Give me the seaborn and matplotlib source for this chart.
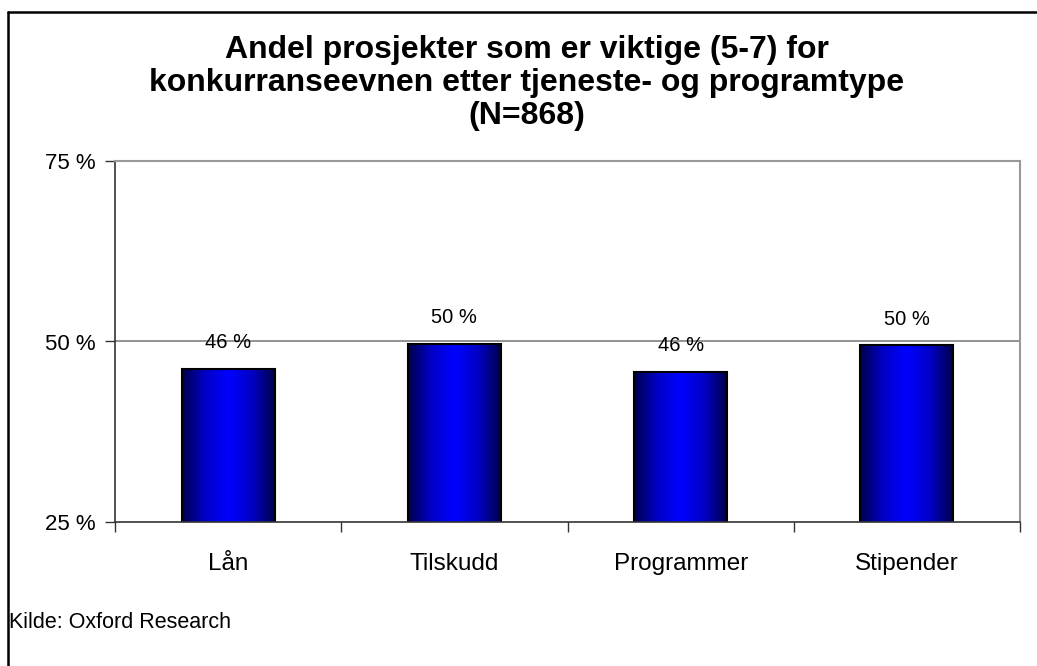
import numpy as np
import pandas as pd
import matplotlib
matplotlib.use("Agg")
import matplotlib.pyplot as plt
from matplotlib.colors import LinearSegmentedColormap
from matplotlib.lines import Line2D
from matplotlib.ticker import FixedLocator
import seaborn as sns

categories = ["Lån", "Tilskudd", "Programmer", "Stipender"]
shares = [46.2, 49.7, 45.8, 49.5]
y_ticks = [25, 50, 75]
title_lines = ["Andel prosjekter som er viktige (5-7) for",
               "konkurranseevnen etter tjeneste- og programtype",
               "(N=868)"]
source_note = "Kilde: Oxford Research"

sns.set_theme(style="white")
plt.rcParams["font.family"] = ["Liberation Sans", "DejaVu Sans"]
plt.rcParams["text.color"] = "black"
plt.rcParams["xtick.color"] = "black"
plt.rcParams["ytick.color"] = "black"

df = pd.DataFrame({"kategori": categories, "andel": shares})

fig = plt.figure(figsize=(10.37, 6.66), dpi=100)
ax = fig.add_axes([115 / 1037, 1 - 522 / 666, 905 / 1037, 361 / 666])

sns.barplot(data=df, x="kategori", y="andel", ax=ax, width=0.41,
            color="#0000FF", edgecolor="black", linewidth=1.5, saturation=1)

ax.set_ylim(25, 75)
ax.set_xlim(-0.5, len(categories) - 0.5)
ax.set_xlabel("")
ax.set_ylabel("")

# horizontal navy-blue-navy gradient inside each bar
grad_cmap = LinearSegmentedColormap.from_list(
    "bar_grad", ["#00004A", "#0000C8", "#0000FF", "#0000C8", "#00004A"])
grad = np.linspace(0, 1, 256).reshape(1, -1)
for patch in ax.patches:
    x0, y0 = patch.get_x(), patch.get_y()
    w, h = patch.get_width(), patch.get_height()
    y_bot = max(y0, 25)
    img = ax.imshow(grad, cmap=grad_cmap, aspect="auto",
                    extent=(x0, x0 + w, y_bot, y0 + h), zorder=patch.get_zorder() + 0.1,
                    interpolation="bicubic")
    img.set_clip_path(patch)
    patch.set_facecolor("none")
    patch.set_zorder(patch.get_zorder() + 0.2)

# data labels
for i, v in enumerate(shares):
    ax.annotate(f"{v:.0f} %", (i, v), xytext=(0, 26), textcoords="offset pixels",
                ha="center", va="center", fontsize=14.5, color="black")

# gridlines
for yv in [50, 75]:
    ax.axhline(yv, color="#808080", linewidth=1.2, zorder=0.5)

ax.set_yticks(y_ticks)
ax.set_yticklabels([f"{t} %" for t in y_ticks], fontsize=16)
ax.tick_params(axis="y", which="major", direction="out", length=7, width=1,
               color="#333333", pad=7, left=True)
ax.set_xticks(range(len(categories)))
ax.set_xticklabels(categories, fontsize=17.5)
ax.tick_params(axis="x", which="major", length=0, pad=22)
ax.xaxis.set_minor_locator(FixedLocator(np.arange(-0.5, len(categories), 1.0)))
ax.tick_params(axis="x", which="minor", direction="out", length=7, width=1,
               color="#333333", bottom=True)

for side in ["left", "bottom"]:
    ax.spines[side].set_color("#333333")
    ax.spines[side].set_linewidth(1.2)
for side in ["top", "right"]:
    ax.spines[side].set_color("#999999")
    ax.spines[side].set_linewidth(1.5)

# title
fig.text(527 / 1037, 1 - 83 / 666, "\n".join(title_lines), ha="center", va="center",
         fontsize=23, fontweight="bold", linespacing=1.15)

# source note
fig.text(9 / 1037, 1 - 622 / 666, source_note, ha="left", va="center", fontsize=15.5)

# chart frame
fig.add_artist(Line2D([8 / 1037, 8 / 1037], [0, 1 - 12 / 666], transform=fig.transFigure,
                      color="black", linewidth=1.8))
fig.add_artist(Line2D([8 / 1037, 1], [1 - 12 / 666, 1 - 12 / 666], transform=fig.transFigure,
                      color="black", linewidth=1.8))

fig.savefig("out.png", dpi=100)
